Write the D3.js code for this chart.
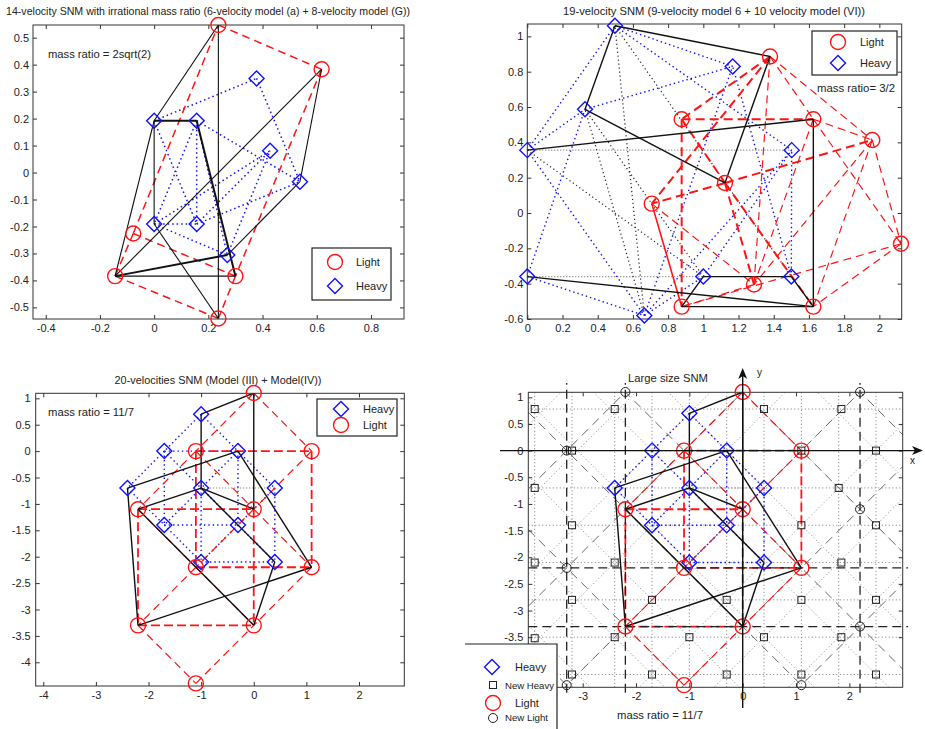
<!DOCTYPE html>
<html><head><meta charset="utf-8">
<script src="https://cdn.jsdelivr.net/npm/d3@7"></script>
<style>
body{margin:0;background:#fff;}
svg{display:block;font-family:"Liberation Sans",Arial,Helvetica,sans-serif;}
</style></head><body>
<svg id="fig" width="925" height="729"></svg>
<script>
// ---------- Panel 1: 14-velocity SNM (6 light + 8 heavy) ----------
const p1Light = [[0.237,0.547],[0.618,0.383],[0.30,-0.384],[0.237,-0.541],[-0.144,-0.384],[-0.077,-0.226]];
const p1Heavy = [[0,0.192],[0.157,0.192],[0.378,0.349],[0.428,0.081],[0.538,-0.034],[0,-0.191],[0.157,-0.191],[0.27,-0.306]];
const p1BlackThin = ["L0-H0","H0-L4","H0-H5","H5-L3","L0-L3","L1-L4","L1-H4","H4-H7","L4-L2"];
const p1BlackThick = ["H0-H1","H1-L2","H7-L4"];
const p1RedDash = ["L0-L1","L1-L2","L2-L3","L3-L4","L4-L5","L5-L0","L5-L2"];
const p1BlueDot = ["H0-H2","H0-H6","H1-H5","H1-H6","H1-H4","H2-H4","H5-H6","H5-H3","H5-H7","H6-H4","H6-H3","H7-H3","H1-H7"];
const p1XTicks = [-0.4,-0.2,0,0.2,0.4,0.6,0.8];
const p1YTicks = [-0.5,-0.4,-0.3,-0.2,-0.1,0,0.1,0.2,0.3,0.4,0.5];

// ---------- Panel 2: 19-velocity SNM (9 heavy + 10 light) ----------
const p2Light = [[1.379,0.886],[0.877,0.531],[1.625,0.531],[1.96,0.413],[1.123,0.17],[0.707,0.053],[2.123,-0.174],[1.288,-0.405],[0.877,-0.53],[1.625,-0.53]];
const p2Heavy = [[0.498,1.06],[1.167,0.83],[0.328,0.587],[0,0.356],[1.502,0.356],[0,-0.36],[1.0,-0.36],[1.5,-0.36],[0.665,-0.58]];
const p2Black = ["H0-L0","H0-H2","H2-L4","L0-L4","H3-L2","L2-L9","H5-L9","L8-L9","L8-H6","H6-H7","H7-L9"];
const p2RedSolid = ["L5-L8"];
const p2RedThick = ["L0-L1","L0-L5","L1-L2","L1-L8","L1-L4","L4-L5","L4-L3","L4-L7","L4-L9"];
const p2RedThin = ["L0-L3","L0-L2","L2-L3","L2-L6","L2-L7","L3-L6","L3-L7","L3-L9","L6-L8","L6-L9","L7-L8","L5-L7","L0-L7"];
const p2BlueDot = ["H3-H0","H3-H2","H2-H1","H0-H4","H3-H8","H5-H8","H8-H4","H8-H1","H8-H6","H7-H4","H7-H1","H6-H4","H5-H2","H0-H1"];
const p2GrayDot = ["H3-H4","H5-H6"];
const p2DarkDot = ["H8-H2","H8-H0","H0-H7","H2-H6","H3-H6"];
const p2XTicks = [0,0.2,0.4,0.6,0.8,1,1.2,1.4,1.6,1.8,2];
const p2YTicks = [-0.6,-0.4,-0.2,0,0.2,0.4,0.6,0.8,1];

// ---------- Panels 3 & 4: 20-velocity SNM, mass ratio 11/7 ----------
const coreLight = [[0,1.1],[-1.1,0],[1.1,0],[-2.2,-1.1],[0,-1.1],[-1.1,-2.2],[1.1,-2.2],[-2.2,-3.3],[0,-3.3],[-1.1,-4.4]];
const coreHeavy = [[-1,0.7],[-1.7,0],[-0.3,0],[-2.4,-0.7],[-1,-0.7],[0.4,-0.7],[-1.7,-1.4],[-0.3,-1.4],[-1,-2.1],[0.4,-2.1]];
const coreBlack = ["H0-L0","L0-L4","H0-H4","H4-L4","H3-H2","H2-L6","H3-L7","L7-L6","L3-H4","L3-L8","H4-H9","H9-L8"];
const coreRedThick = ["L1-L2","L3-L4","L5-L6","L7-L8","L2-L6","L3-L7","L1-L5","L4-L8"];
const coreRedThin = ["L0-L1","L0-L2","L1-L3","L1-L4","L2-L4","L3-L5","L4-L5","L4-L6","L5-L7","L5-L8","L6-L8","L7-L9","L9-L8"];
const coreBlueDot = ["H0-H1","H0-H2","H1-H2","H1-H3","H2-H5","H1-H4","H2-H4","H3-H6","H4-H6","H4-H7","H5-H7","H6-H7","H6-H8","H7-H8","H7-H9","H8-H9","H5-H9","H1-H6","H2-H7","H4-H8"];
const coreGrayDot = ["H4-H5"];
const p3XTicks = [-4,-3,-2,-1,0,1,2];
const p3YTicks = [-4,-3.5,-3,-2.5,-2,-1.5,-1,-0.5,0,0.5,1];

// extra lattice points of the large-size model
const p4NewLight = [[-2.2,1.1],[2.2,1.1],[-3.3,0],[2.2,-1.1],[-3.3,-2.2],[2.2,-3.3],[-3.3,-4.4],[1.1,-4.4]];
const p4NewHeavy = [[-3.9,0.78],[-2.4,0.78],[0.4,0.78],[1.85,0.78],
  [-3.2,0],[1.1,0],[2.5,0],
  [-3.9,-0.7],[1.8,-0.7],
  [-3.2,-1.4],[1.1,-1.4],[2.5,-1.4],
  [-3.9,-2.1],[-2.4,-2.1],[1.85,-2.1],
  [-3.2,-2.8],[-1.7,-2.8],[-0.3,-2.8],[1.1,-2.8],[2.5,-2.8],
  [-3.9,-3.52],[-2.4,-3.5],[-1.0,-3.5],[0.4,-3.5],[1.85,-3.5],
  [-3.2,-4.2],[-1.7,-4.2],[-0.3,-4.2],[1.1,-4.2],[2.5,-4.2]];
const p4GridX = [-3.9,-3.2,-2.4,-1.7,-1.0,-0.3,0.4,1.1,1.8,2.5];
const p4GridY = [0.78,0,-0.7,-1.4,-2.1,-2.8,-3.5,-4.2];
const p4DotDiagUp = [-5.3,-3.9,-2.5,-1.1,0.3,1.7,3.1,4.5];      // y = x + c
const p4DotDiagDown = [-7.3,-5.9,-4.5,-3.1,-1.7,-0.3,1.1,2.5];  // y = -x + c
const p4DashDiagUp = [-5.5,-3.3,-1.1,1.1,3.3];
const p4DashDiagDown = [-7.7,-5.5,-3.3,-1.1,1.1,3.3];
const p4LongV = [-3.3,-2.2,2.2];
const p4LongH = [-2.2,-3.3];
// the -4 ticks sit under the legend, so only the visible ones are labelled
const p4XTicks = [-3,-2,-1,0,1,2];
const p4YTicks = [-3.5,-3,-2.5,-2,-1.5,-1,-0.5,0,0.5,1];

const RED = "#ff1414", BLUE = "#1010ff", BLACK = "#111", TXT = "#222";
const svg = d3.select("#fig");
const defs = svg.append("defs");

function makePanel(cfg){
  const x = d3.scaleLinear().domain(cfg.xDomain).range([cfg.left, cfg.right]);
  const y = d3.scaleLinear().domain(cfg.yDomain).range([cfg.bottom, cfg.top]);
  const id = "clip" + cfg.id;
  defs.append("clipPath").attr("id", id).append("rect")
    .attr("x", cfg.left).attr("y", cfg.top)
    .attr("width", cfg.right - cfg.left).attr("height", cfg.bottom - cfg.top);
  const g = svg.append("g");
  g.append("rect").attr("x", cfg.left).attr("y", cfg.top)
    .attr("width", cfg.right - cfg.left).attr("height", cfg.bottom - cfg.top)
    .attr("fill", "#fff");
  const lines = g.append("g").attr("clip-path", `url(#${id})`);
  return {cfg, x, y, g, lines, clipId: id};
}

function drawAxes(P, xTicks, yTicks, xPad, yPad){
  const c = P.cfg;
  const fmt = d => String(Math.round(d * 100) / 100);
  const style = sel => {
    sel.select(".domain").remove();
    sel.selectAll("line").attr("stroke", "#333");
    sel.selectAll("text").attr("font-size", 11).attr("fill", TXT)
      .attr("font-family", "'Liberation Sans', Arial, sans-serif");
  };
  P.g.append("g").attr("transform", `translate(0,${c.bottom})`)
    .call(d3.axisBottom(P.x).tickValues(xTicks).tickSize(-4).tickPadding(xPad).tickFormat(fmt)).call(style);
  P.g.append("g").attr("transform", `translate(0,${c.top})`)
    .call(d3.axisTop(P.x).tickValues(xTicks).tickSize(-4).tickFormat("")).call(style);
  P.g.append("g").attr("transform", `translate(${c.left},0)`)
    .call(d3.axisLeft(P.y).tickValues(yTicks).tickSize(-4).tickPadding(yPad).tickFormat(fmt)).call(style);
  P.g.append("g").attr("transform", `translate(${c.right},0)`)
    .call(d3.axisRight(P.y).tickValues(yTicks).tickSize(-4).tickFormat("")).call(style);
  P.g.append("rect").attr("x", c.left).attr("y", c.top)
    .attr("width", c.right - c.left).attr("height", c.bottom - c.top)
    .attr("fill", "none").attr("stroke", "#333").attr("stroke-width", 1);
}

function edges(P, light, heavy, list, stroke, width, dash, clip = true){
  const pick = t => (t[0] === "L" ? light : heavy)[+t.slice(1)];
  const target = clip ? P.lines : P.g;
  const line = d3.line().x(d => P.x(d[0])).y(d => P.y(d[1]));
  target.selectAll(null).data(list.map(s => s.split("-").map(pick))).join("path")
    .attr("d", line).attr("fill", "none").attr("stroke", stroke)
    .attr("stroke-width", width).attr("stroke-dasharray", dash)
    .attr("stroke-linecap", "butt");
}

const diamondPath = s => `M0,${-s}L${s},0L0,${s}L${-s},0Z`;

function markers(P, light, heavy, r = 7.5){
  P.g.selectAll(null).data(heavy).join("path")
    .attr("transform", d => `translate(${P.x(d[0])},${P.y(d[1])})`)
    .attr("d", diamondPath(r)).attr("fill", "none").attr("stroke", BLUE).attr("stroke-width", 1.4);
  P.g.selectAll(null).data(light).join("circle")
    .attr("cx", d => P.x(d[0])).attr("cy", d => P.y(d[1])).attr("r", r)
    .attr("fill", "none").attr("stroke", RED).attr("stroke-width", 1.4);
}

function text(str, x, y, opts = {}){
  const t = svg.append("text").attr("x", x).attr("y", y).text(str)
    .attr("font-size", opts.size || 11).attr("fill", TXT)
    .attr("text-anchor", opts.anchor || "start").attr("dominant-baseline", "middle");
  if (opts.len) t.attr("textLength", opts.len).attr("lengthAdjust", "spacingAndGlyphs");
  return t;
}

function legend(box, items){
  svg.append("rect").attr("x", box[0]).attr("y", box[1]).attr("width", box[2] - box[0]).attr("height", box[3] - box[1])
    .attr("fill", "#fff").attr("stroke", "#222").attr("stroke-width", 1.2);
  items.forEach(it => {
    if (it.kind === "circle") {
      svg.append("circle").attr("cx", it.mx).attr("cy", it.my).attr("r", 7.5)
        .attr("fill", "none").attr("stroke", RED).attr("stroke-width", 1.4);
    } else {
      svg.append("path").attr("transform", `translate(${it.mx},${it.my})`).attr("d", diamondPath(7.5))
        .attr("fill", "none").attr("stroke", BLUE).attr("stroke-width", 1.4);
    }
    text(it.label, it.tx, it.my + 1);
  });
}

// =================== Panel 1 ===================
{
  const P = makePanel({id: 1, left: 33, right: 404, top: 25, bottom: 319, xDomain: [-0.447, 0.922], yDomain: [-0.543, 0.547]});
  edges(P, p1Light, p1Heavy, p1BlueDot, BLUE, 1.5, "1.5,3");
  edges(P, p1Light, p1Heavy, p1RedDash, RED, 1.5, "8,5");
  edges(P, p1Light, p1Heavy, p1BlackThin, BLACK, 1.1, null);
  edges(P, p1Light, p1Heavy, p1BlackThick, BLACK, 2, null);
  drawAxes(P, p1XTicks, p1YTicks, 5, 4);
  markers(P, p1Light, p1Heavy);
  text("14-velocity SNM with irrational mass ratio (6-velocity model (a) + 8-velocity model (G))", 208, 12, {anchor: "middle", size: 11, len: 404});
  text("mass ratio = 2sqrt(2)", 48, 55, {len: 103});
  legend([312, 248, 391, 300], [
    {kind: "circle", mx: 335, my: 262, tx: 356, label: "Light"},
    {kind: "diamond", mx: 335, my: 286, tx: 356, label: "Heavy"}]);
}

// =================== Panel 2 ===================
{
  const P = makePanel({id: 2, left: 527.3, right: 901.7, top: 24, bottom: 319, xDomain: [0, 2.127], yDomain: [-0.6, 1.07]});
  edges(P, p2Light, p2Heavy, p2GrayDot, "#777", 1.1, "1,2");
  edges(P, p2Light, p2Heavy, p2DarkDot, "#223", 1.2, "1.2,2.8");
  edges(P, p2Light, p2Heavy, p2BlueDot, BLUE, 1.4, "1.4,3");
  edges(P, p2Light, p2Heavy, p2RedThin, RED, 1.2, "8,5");
  edges(P, p2Light, p2Heavy, p2RedThick, RED, 2, "9,5");
  edges(P, p2Light, p2Heavy, p2RedSolid, RED, 1.6, null);
  edges(P, p2Light, p2Heavy, p2Black, BLACK, 1.4, null);
  drawAxes(P, p2XTicks, p2YTicks, 5, 4);
  markers(P, p2Light, p2Heavy);
  text("19-velocity SNM (9-velocity model 6 + 10 velocity model (VI))", 714, 12, {anchor: "middle", len: 302});
  legend([812, 31, 897, 75], [
    {kind: "circle", mx: 838, my: 42, tx: 860, label: "Light"},
    {kind: "diamond", mx: 838, my: 63, tx: 860, label: "Heavy"}]);
  text("mass ratio= 3/2", 817, 89, {len: 78});
}

// =================== Panel 3 ===================
{
  const P = makePanel({id: 3, left: 35.7, right: 404.3, top: 393.3, bottom: 686, xDomain: [-4.144, 2.861], yDomain: [-4.449, 1.095]});
  edges(P, coreLight, coreHeavy, coreGrayDot, "#777", 1.1, "1,2");
  edges(P, coreLight, coreHeavy, coreBlueDot, BLUE, 1.4, "1.4,3");
  edges(P, coreLight, coreHeavy, coreRedThin, RED, 1.2, "8,5");
  edges(P, coreLight, coreHeavy, coreRedThick, RED, 1.8, "9,4");
  edges(P, coreLight, coreHeavy, coreBlack, BLACK, 1.4, null);
  drawAxes(P, p3XTicks, p3YTicks, 5, 5);
  markers(P, coreLight, coreHeavy);
  text("20-velocities SNM (Model (III) + Model(IV))", 218, 381, {anchor: "middle", len: 207});
  text("mass ratio = 11/7", 48, 413, {len: 86});
  legend([317, 399, 397, 436], [
    {kind: "diamond", mx: 341, my: 409, tx: 363, label: "Heavy"},
    {kind: "circle", mx: 341, my: 425, tx: 363, label: "Light"}]);
}

// =================== Panel 4 ===================
{
  const P = makePanel({id: 4, left: 528.3, right: 902.7, top: 392.3, bottom: 687.3, xDomain: [-4.02, 3.0], yDomain: [-4.44, 1.094]});
  const [x0, x1] = P.x.domain(), [y0, y1] = P.y.domain();
  const seg = (a, b) => `M${P.x(a[0])},${P.y(a[1])}L${P.x(b[0])},${P.y(b[1])}`;
  const gridLine = (d, w, dash, stroke, tgt) => tgt.append("path").attr("d", d).attr("fill", "none")
    .attr("stroke", stroke).attr("stroke-width", w).attr("stroke-dasharray", dash);
  // dotted lattice of the heavy species
  p4GridX.forEach(v => gridLine(seg([v, y0], [v, y1]), 1, "1,2.5", "#777", P.lines));
  p4GridY.forEach(v => gridLine(seg([x0, v], [x1, v]), 1, "1,2.5", "#777", P.lines));
  p4DotDiagUp.forEach(c => gridLine(seg([-6, -6 + c], [6, 6 + c]), 1, "1,2.5", "#888", P.lines));
  p4DotDiagDown.forEach(c => gridLine(seg([-8, 8 + c], [6, -6 + c]), 1, "1,2.5", "#888", P.lines));
  // long-dashed lattice of the light species
  p4DashDiagUp.forEach(c => gridLine(seg([-6, -6 + c], [6, 6 + c]), 1, "9,6", "#666", P.lines));
  p4DashDiagDown.forEach(c => gridLine(seg([-8, 8 + c], [6, -6 + c]), 1, "9,6", "#666", P.lines));
  p4LongV.forEach(v => gridLine(seg([v, -4.54], [v, 1.27]), 1.3, "9,5", "#222", P.g));
  p4LongH.forEach(v => gridLine(seg([-4.02, v], [3.1, v]), 1.3, "9,5", "#222", P.g));

  edges(P, coreLight, coreHeavy, coreGrayDot, "#777", 1.1, "1,2");
  edges(P, coreLight, coreHeavy, coreBlueDot, BLUE, 1.4, "1.4,3");
  edges(P, coreLight, coreHeavy, coreRedThin, RED, 1.2, "8,5");
  edges(P, coreLight, coreHeavy, coreRedThick, RED, 1.8, "9,4");
  edges(P, coreLight, coreHeavy, coreBlack, BLACK, 1.4, null);
  drawAxes(P, p4XTicks, p4YTicks, 5, 5);

  // coordinate axes with arrows
  const ax = [-4.55, 3.38], ay = [-4.83, 1.55];
  svg.append("path").attr("d", seg([ax[0], 0], [ax[1] - 0.1, 0])).attr("stroke", BLACK).attr("stroke-width", 1.4);
  svg.append("path").attr("d", seg([0, ay[0]], [0, ay[1] - 0.1])).attr("stroke", BLACK).attr("stroke-width", 1.4);
  const tx = P.x(ax[1]), ty = P.y(0);
  svg.append("path").attr("d", `M${tx},${ty}L${tx - 11},${ty - 4.5}L${tx - 8},${ty}L${tx - 11},${ty + 4.5}Z`).attr("fill", BLACK);
  const ux = P.x(0), uy = P.y(ay[1]);
  svg.append("path").attr("d", `M${ux},${uy}L${ux - 4.5},${uy + 11}L${ux},${uy + 8}L${ux + 4.5},${uy + 11}Z`).attr("fill", BLACK);
  text("x", 910, 461, {size: 10});
  text("y", 757, 373, {size: 10});

  markers(P, coreLight, coreHeavy);
  // extra lattice points
  P.g.selectAll(null).data(p4NewHeavy).join("rect")
    .attr("x", d => P.x(d[0]) - 3.5).attr("y", d => P.y(d[1]) - 3.5).attr("width", 7).attr("height", 7)
    .attr("fill", "none").attr("stroke", "#222").attr("stroke-width", 1);
  P.g.selectAll(null).data(p4NewLight).join("circle")
    .attr("cx", d => P.x(d[0])).attr("cy", d => P.y(d[1])).attr("r", 4.5)
    .attr("fill", "none").attr("stroke", "#222").attr("stroke-width", 1);

  text("Large size SNM", 668, 379, {anchor: "middle", len: 80});
  text("mass ratio = 11/7", 617, 716, {len: 86});

  // legend in the lower-left corner
  svg.append("rect").attr("x", 465).attr("y", 644).attr("width", 92).attr("height", 90).attr("fill", "#fff");
  svg.append("path").attr("d", "M465,644L557,644L557,729").attr("fill", "none").attr("stroke", "#222").attr("stroke-width", 1.2);
  svg.append("path").attr("transform", "translate(492,667)").attr("d", diamondPath(7.5))
    .attr("fill", "none").attr("stroke", BLUE).attr("stroke-width", 1.4);
  text("Heavy", 515, 668);
  svg.append("rect").attr("x", 489.5).attr("y", 681.5).attr("width", 7).attr("height", 7)
    .attr("fill", "none").attr("stroke", "#222");
  text("New Heavy", 505, 687, {size: 9, len: 49});
  svg.append("circle").attr("cx", 493).attr("cy", 703).attr("r", 7.5)
    .attr("fill", "none").attr("stroke", RED).attr("stroke-width", 1.4);
  text("Light", 515, 704);
  svg.append("circle").attr("cx", 493).attr("cy", 718).attr("r", 4.5)
    .attr("fill", "none").attr("stroke", "#222");
  text("New Light", 505, 719, {size: 9, len: 43});
}
</script>
</body></html>
